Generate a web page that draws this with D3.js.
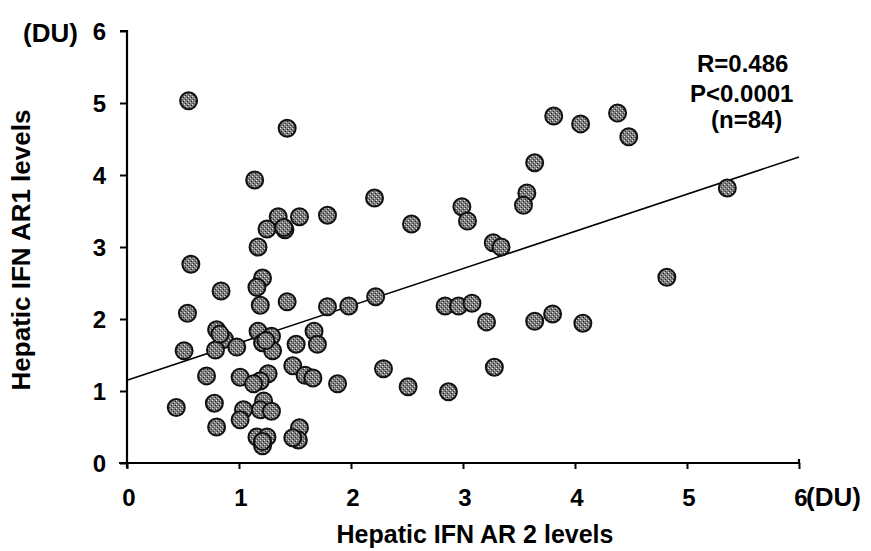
<!DOCTYPE html>
<html>
<head>
<meta charset="utf-8">
<script src="https://cdn.jsdelivr.net/npm/d3@7/dist/d3.min.js"></script>
<style>
  html, body { margin: 0; padding: 0; background: #fff; }
  svg text { font-family: "Liberation Sans", Arial, Helvetica, sans-serif; font-weight: bold; fill: #000; }
</style>
</head>
<body>
<svg id="chart" width="871" height="551"></svg>
<script>
// Hepatic IFN AR2 (x) vs IFN AR1 (y) levels, densitometric units
const ar2 = [
  0.55, 1.43, 1.14, 1.35, 1.54, 1.79, 1.25, 1.41, 2.21, 1.17,
  0.57, 1.21, 1.16, 0.84, 1.43, 1.19, 0.54, 1.79, 1.98, 2.22,
  0.80, 0.87, 1.17, 1.29, 0.98, 0.79, 0.51, 1.21, 1.30, 1.51,
  1.67, 1.70, 1.48, 0.71, 1.01, 1.26, 1.19, 1.13, 1.59, 1.66,
  1.88, 0.44, 0.78, 1.04, 1.01, 1.22, 1.19, 1.29, 0.80, 1.16,
  1.25, 1.21, 1.54, 1.53, 3.81, 4.05, 4.38, 4.48, 3.64, 3.57,
  3.54, 2.99, 3.04, 2.54, 3.27, 3.34, 5.36, 2.84, 2.96, 3.08,
  3.21, 3.64, 3.80, 4.07, 4.82, 2.29, 3.28, 2.51, 2.87,
  1.48, 1.24, 1.21, 0.83, 1.40
];
const ar1 = [
  5.03, 4.65, 3.93, 3.42, 3.42, 3.44, 3.25, 3.24, 3.68, 3.00,
  2.76, 2.57, 2.44, 2.39, 2.24, 2.19, 2.08, 2.17, 2.18, 2.31,
  1.85, 1.72, 1.83, 1.76, 1.61, 1.57, 1.56, 1.67, 1.56, 1.65,
  1.83, 1.65, 1.35, 1.21, 1.19, 1.24, 1.14, 1.10, 1.22, 1.18,
  1.10, 0.77, 0.83, 0.74, 0.60, 0.86, 0.74, 0.72, 0.50, 0.36,
  0.36, 0.24, 0.49, 0.32, 4.82, 4.71, 4.86, 4.53, 4.17, 3.75,
  3.58, 3.56, 3.36, 3.32, 3.06, 3.00, 3.82, 2.18, 2.18, 2.22,
  1.96, 1.97, 2.07, 1.94, 2.58, 1.31, 1.33, 1.06, 0.99,
  0.35, 1.70, 0.30, 1.79, 3.27
];

// Regression line end points (x = 0 and x = 6)
const fitX = [0, 6];
const fitY = [1.15, 4.25];

const xTicks = [0, 1, 2, 3, 4, 5, 6];
const yTicks = [0, 1, 2, 3, 4, 5, 6];
const statLines = ["R=0.486", "P<0.0001", "(n=84)"];

const svg = d3.select("#chart");
const x = d3.scaleLinear().domain([0, 6]).range([127, 799]);
const y = d3.scaleLinear().domain([0, 6]).range([463, 31]);

// speckled fill for the dots
const defs = svg.append("defs");
const pat = defs.append("pattern")
  .attr("id", "speck").attr("width", 4).attr("height", 4)
  .attr("patternUnits", "userSpaceOnUse");
pat.append("rect").attr("width", 4).attr("height", 4).attr("fill", "#7d7d7d");
pat.append("rect").attr("x", 0).attr("y", 0).attr("width", 1).attr("height", 1).attr("fill", "#e6e6e6");
pat.append("rect").attr("x", 2).attr("y", 2).attr("width", 1).attr("height", 1).attr("fill", "#d0d0d0");
pat.append("rect").attr("x", 3).attr("y", 1).attr("width", 1).attr("height", 1).attr("fill", "#222");
pat.append("rect").attr("x", 1).attr("y", 3).attr("width", 1).attr("height", 1).attr("fill", "#333");

// axes
const xAxis = d3.axisBottom(x).tickValues(xTicks).tickSize(6).tickFormat("");
const yAxis = d3.axisLeft(y).tickValues(yTicks).tickSize(7).tickFormat("");

const gx = svg.append("g").attr("transform", `translate(0,${y(0)})`).call(xAxis);
const gy = svg.append("g").attr("transform", `translate(${x(0)},0)`).call(yAxis);
[gx, gy].forEach(g => {
  g.select(".domain").attr("stroke", "#000").attr("stroke-width", 2.2);
  g.selectAll(".tick line").attr("stroke", "#000").attr("stroke-width", 2);
});
gx.select(".domain").attr("d", `M${x(0) - 8},0H${x(6)}V-4`);
gy.select(".domain").attr("d", `M-7,${y(6)}H0V${y(0) + 5}`);

// tick labels
svg.append("g").selectAll("text").data(xTicks).join("text")
  .attr("x", d => x(d) + 2).attr("y", 506)
  .attr("text-anchor", "middle").attr("font-size", 24)
  .text(d => d);
svg.append("g").selectAll("text").data(yTicks).join("text")
  .attr("x", 106).attr("y", d => y(d) + 9)
  .attr("text-anchor", "end").attr("font-size", 24)
  .text(d => d);

// unit labels
svg.append("text").attr("x", 23).attr("y", 42).attr("font-size", 26).text("(DU)");
svg.append("text").attr("x", 806).attr("y", 506).attr("font-size", 26).text("(DU)");

// axis titles
svg.append("text").attr("x", 475).attr("y", 543)
  .attr("text-anchor", "middle").attr("font-size", 25)
  .text("Hepatic IFN AR 2 levels");
svg.append("text")
  .attr("transform", `translate(30,250) rotate(-90)`)
  .attr("text-anchor", "middle").attr("font-size", 26)
  .text("Hepatic IFN AR1 levels");

// regression line
svg.append("line")
  .attr("x1", x(fitX[0])).attr("y1", y(fitY[0]))
  .attr("x2", x(fitX[1])).attr("y2", y(fitY[1]))
  .attr("stroke", "#000").attr("stroke-width", 1.5);

// data points
const pts = ar2.map((v, i) => ({ x: v, y: ar1[i] }));
svg.append("g").selectAll("circle").data(pts).join("circle")
  .attr("cx", d => x(d.x)).attr("cy", d => y(d.y)).attr("r", 8.5)
  .attr("fill", "url(#speck)").attr("stroke", "#111").attr("stroke-width", 2);

// statistics
const statX = [697, 690, 711];
const statY = [72, 102, 128];
svg.append("g").selectAll("text").data(statLines).join("text")
  .attr("x", (d, i) => statX[i]).attr("y", (d, i) => statY[i])
  .attr("font-size", 24).text(d => d);
</script>
</body>
</html>
